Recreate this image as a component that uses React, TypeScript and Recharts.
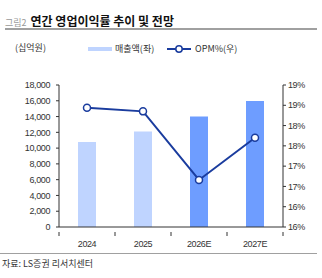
import React from 'react';
import { ComposedChart, Bar, Line, XAxis, YAxis, Cell, Legend } from 'recharts';

// annual sales (KRW bn) and operating margin (%)
const years = ['2024', '2025', '2026E', '2027E'];
const sales = [10760, 12100, 14000, 15970];
const opm = [18.44, 18.35, 16.66, 17.7];
const estimate = [false, false, true, true];

const salesTicks = [0, 2000, 4000, 6000, 8000, 10000, 12000, 14000, 16000, 18000];
const opmTicks = [15.5, 16, 16.5, 17, 17.5, 18, 18.5, 19];

const data = years.map((year, i) => ({ year, sales: sales[i], opm: opm[i], est: estimate[i] }));

const NUM_FONT = '"Liberation Sans", Arial, sans-serif';
const KR_FONT = '"Noto Sans CJK KR", "Liberation Sans", sans-serif';
const AXIS = '#333';
const LIGHT = '#BFD4FF';
const DARK = '#6E9DFF';
const LINE = '#1A3C9E';
const tickStyle = { fontSize: 9, fontFamily: NUM_FONT, fill: AXIS, letterSpacing: -0.4 };

// category label plus tick marks at the band edges
const YearTick = (props: any) => {
  const { x, y, payload, index } = props;
  const half = payload.offset || 28;
  return (
    <g>
      <line x1={x - half} x2={x - half} y1={y - 3} y2={y + 1} stroke={AXIS} />
      {index === years.length - 1 && (
        <line x1={x + half} x2={x + half} y1={y - 3} y2={y + 1} stroke={AXIS} />
      )}
      <text x={x} y={y + 12} textAnchor="middle" {...tickStyle}>
        {payload.value}
      </text>
    </g>
  );
};

const LegendContent = () => (
  <div style={{ position: 'relative', height: 14, fontFamily: KR_FONT, fontSize: 9, color: '#333' }}>
    <div style={{ position: 'absolute', left: 88, top: 5, width: 24, height: 4, background: LIGHT }} />
    <span style={{ position: 'absolute', left: 115, top: 0 }}>매출액(좌)</span>
    <svg style={{ position: 'absolute', left: 167, top: 1 }} width={24} height={12}>
      <line x1={0} x2={24} y1={6} y2={6} stroke={LINE} strokeWidth={2} />
      <circle cx={12} cy={6} r={3.2} fill="#fff" stroke={LINE} strokeWidth={1.5} />
    </svg>
    <span style={{ position: 'absolute', left: 195, top: 0 }}>OPM%(우)</span>
  </div>
);

export default function App() {
  return (
    <div style={{ position: 'absolute', left: 0, top: 0, width: 322, height: 278, background: '#fff' }}>
      <div style={{ position: 'absolute', left: 5, top: 7, whiteSpace: 'nowrap', fontFamily: KR_FONT }}>
        <span style={{ fontSize: 9, color: '#999', marginRight: 4 }}>그림2</span>
        <span style={{ fontSize: 12, fontWeight: 700, color: '#111' }}>연간 영업이익률 추이 및 전망</span>
      </div>
      <div style={{ position: 'absolute', left: 5, top: 28, width: 312, height: 2, background: '#a0a0a0' }} />
      <div style={{ position: 'absolute', left: 15, top: 41, fontFamily: KR_FONT, fontSize: 9, color: '#333' }}>
        (십억원)
      </div>

      <ComposedChart
        width={322}
        height={278}
        data={data}
        margin={{ top: 71, right: 4, bottom: 26, left: 9 }}
        barCategoryGap={19}
      >
        <XAxis
          dataKey="year"
          tick={<YearTick />}
          tickLine={false}
          axisLine={{ stroke: AXIS }}
          height={25}
          interval={0}
        />
        <YAxis
          yAxisId="left"
          domain={[0, 18000]}
          ticks={salesTicks}
          tickFormatter={(v: number) => v.toLocaleString('en-US')}
          tick={tickStyle}
          tickLine={{ stroke: AXIS }}
          tickSize={3}
          tickMargin={6}
          axisLine={{ stroke: AXIS }}
          width={50}
          interval={0}
        />
        <YAxis
          yAxisId="right"
          orientation="right"
          domain={[15.5, 19]}
          ticks={opmTicks}
          tickFormatter={(v: number) => `${Math.round(v)}%`}
          tick={tickStyle}
          tickLine={{ stroke: AXIS }}
          tickSize={3}
          tickMargin={2}
          axisLine={{ stroke: AXIS }}
          width={35}
          interval={0}
        />
        <Legend
          verticalAlign="top"
          content={<LegendContent />}
          wrapperStyle={{ top: 42, left: 0, width: 322 }}
        />
        <Bar yAxisId="left" dataKey="sales" isAnimationActive={false}>
          {data.map((d, i) => (
            <Cell key={`bar-${i}`} fill={d.est ? DARK : LIGHT} />
          ))}
        </Bar>
        <Line
          yAxisId="right"
          dataKey="opm"
          stroke={LINE}
          strokeWidth={2}
          dot={{ r: 3.5, fill: '#fff', stroke: LINE, strokeWidth: 1.5 }}
          isAnimationActive={false}
        />
      </ComposedChart>

      <div style={{ position: 'absolute', left: 0, top: 253, width: 317, height: 1, background: '#a0a0a0' }} />
      <div style={{ position: 'absolute', left: 2, top: 257, fontFamily: KR_FONT, fontSize: 9, color: '#333', whiteSpace: 'nowrap' }}>
        자료: LS증권 리서치센터
      </div>
    </div>
  );
}
